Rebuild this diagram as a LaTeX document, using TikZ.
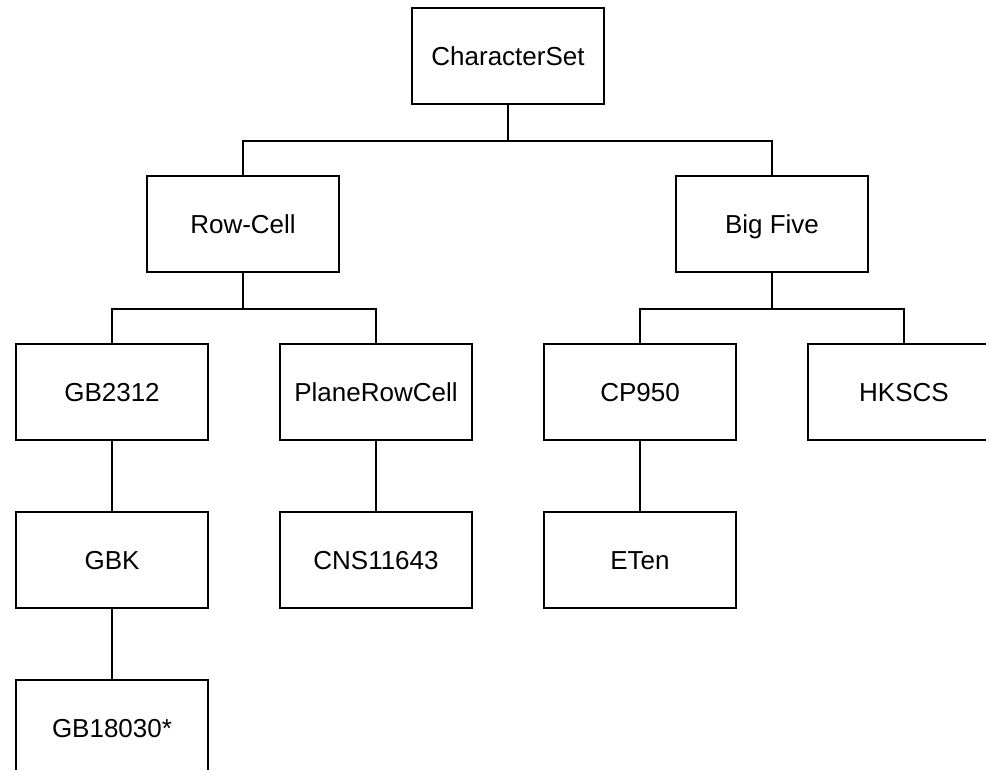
\documentclass[tikz,border=0pt]{standalone}
\usepackage{fontspec}
\setmainfont{Liberation Sans}
\begin{document}
\begin{tikzpicture}[x=1pt,y=1pt,
  box/.style={draw, line width=1.6pt, minimum width=192pt, minimum height=96pt, inner sep=0pt, text height=18.6pt, text depth=0pt, font=\fontsize{26}{31}\selectfont},
  link/.style={line width=1.6pt}]
\useasboundingbox (0,0) rectangle (986,-770);
\clip (0,0) rectangle (986,-770);
\node[box] (cs) at (508,-56) {CharacterSet};
\node[box] (rc) at (243,-224) {Row-Cell};
\node[box] (bf) at (772,-224) {Big Five};
\node[box] (gb) at (112,-392) {GB2312};
\node[box] (prc) at (376,-392) {PlaneRowCell};
\node[box] (cp) at (640,-392) {CP950};
\node[box] (hk) at (904,-392) {HKSCS};
\node[box] (gbk) at (112,-560) {GBK};
\node[box] (cns) at (376,-560) {CNS11643};
\node[box] (et) at (640,-560) {ETen};
\node[box] (gb18) at (112,-728) {GB18030*};
\draw[link] (cs.south) -- ++(0,-36) -| (rc.north);
\draw[link] (cs.south) -- ++(0,-36) -| (bf.north);
\draw[link] (rc.south) -- ++(0,-36) -| (gb.north);
\draw[link] (rc.south) -- ++(0,-36) -| (prc.north);
\draw[link] (bf.south) -- ++(0,-36) -| (cp.north);
\draw[link] (bf.south) -- ++(0,-36) -| (hk.north);
\draw[link] (gb.south) -- (gbk.north);
\draw[link] (prc.south) -- (cns.north);
\draw[link] (cp.south) -- (et.north);
\draw[link] (gbk.south) -- (gb18.north);
\end{tikzpicture}
\end{document}
